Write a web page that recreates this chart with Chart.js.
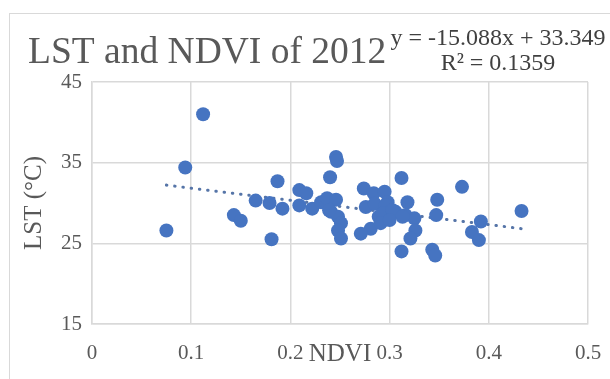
<!DOCTYPE html>
<html>
<head>
<meta charset="utf-8">
<script src="https://cdn.jsdelivr.net/npm/chart.js@4/dist/chart.umd.min.js"></script>
<style>
  html, body { margin: 0; padding: 0; background: #ffffff; }
  #wrap { width: 610px; height: 379px; }
</style>
</head>
<body>
<div id="wrap"><canvas id="c" width="610" height="379"></canvas></div>
<script>
// NDVI (x) and land surface temperature in °C (y), one entry per sample site
const ndvi = [0.075, 0.094, 0.112, 0.143, 0.150, 0.165, 0.179, 0.181, 0.187, 0.192,
              0.209, 0.216, 0.209, 0.222, 0.231, 0.237, 0.246, 0.246, 0.247, 0.240,
              0.241, 0.248, 0.251, 0.248, 0.251, 0.274, 0.284, 0.295, 0.276, 0.298,
              0.318, 0.289, 0.306, 0.316, 0.325, 0.326, 0.321, 0.281, 0.271, 0.312,
              0.373, 0.433, 0.348, 0.347, 0.312, 0.343, 0.346, 0.392, 0.383, 0.390,
              0.285, 0.296, 0.293, 0.303, 0.313, 0.291, 0.300, 0.239];
const lst  = [26.6, 34.4, 41.0, 28.5, 27.8, 30.3, 30.0, 25.5, 32.7, 29.3,
              31.6, 31.2, 29.7, 29.3, 30.1, 30.6, 30.4, 35.7, 35.2, 33.2,
              28.9, 28.3, 27.5, 26.6, 25.6, 31.8, 31.2, 31.4, 29.5, 30.1,
              30.1, 28.3, 28.9, 28.5, 28.1, 26.6, 25.6, 26.8, 26.2, 33.1,
              32.0, 29.0, 30.4, 28.5, 24.0, 24.2, 23.5, 27.7, 26.4, 25.4,
              29.9, 29.7, 28.7, 29.1, 28.3, 27.5, 27.9, 29.1];

// Axis ticks
const xTickValues = [0, 0.1, 0.2, 0.3, 0.4, 0.5];
const xTickLabels = ['0', '0.1', '0.2', '0.3', '0.4', '0.5'];
const yTickValues = [15, 25, 35, 45];
const yTickLabels = ['15', '25', '35', '45'];

// Linear trend fitted to the samples
const trendSlope = -15.088;
const trendIntercept = 33.349;
const rSquared = 0.1359;

const chartTitle = 'LST and NDVI of 2012';
const xAxisTitle = 'NDVI';
const yAxisTitle = 'LST (°C)';

const serif = '"Liberation Serif", "Times New Roman", serif';

const points = ndvi.map((x, i) => ({ x: x, y: lst[i] }));
const xMin = Math.min(...ndvi), xMax = Math.max(...ndvi);
const trend = [xMin, xMax].map(x => ({ x: x, y: trendSlope * x + trendIntercept }));

const equationText = 'y = ' + trendSlope.toFixed(3) + 'x + ' + trendIntercept.toFixed(3);
const rSquaredText = 'R² = ' + rSquared.toFixed(4);

// Frame, title and trend equation drawn onto the canvas
const decor = {
  id: 'decor',
  beforeDraw(chart) {
    const ctx = chart.ctx;
    ctx.save();
    ctx.fillStyle = '#ffffff';
    ctx.fillRect(0, 0, chart.width, chart.height);
    ctx.strokeStyle = '#d9d9d9';
    ctx.lineWidth = 1;
    ctx.strokeRect(9.5, 13.5, 700, 500);
    ctx.restore();
  },
  afterDraw(chart) {
    const ctx = chart.ctx;
    ctx.save();
    ctx.textBaseline = 'alphabetic';
    ctx.fillStyle = '#595959';
    ctx.font = '37.5px ' + serif;
    ctx.textAlign = 'left';
    ctx.fillText(chartTitle, 28, 63);

    ctx.fillStyle = '#404040';
    ctx.font = '24px ' + serif;
    ctx.textAlign = 'center';
    ctx.fillText(equationText, 498, 45);
    ctx.fillText(rSquaredText, 498, 70);
    ctx.restore();
  }
};

const gridColor = '#d9d9d9';

new Chart(document.getElementById('c'), {
  type: 'scatter',
  data: {
    datasets: [
      {
        label: 'LST',
        data: points,
        backgroundColor: '#4674c1',
        borderWidth: 0,
        pointRadius: 7,
        pointHoverRadius: 7,
        order: 1
      },
      {
        label: 'Linear (LST)',
        type: 'line',
        data: trend,
        borderColor: '#5675a8',
        borderWidth: 3,
        borderDash: [0.5, 7.8],
        borderCapStyle: 'round',
        pointRadius: 0,
        fill: false,
        order: 2
      }
    ]
  },
  options: {
    responsive: false,
    animation: false,
    events: [],
    layout: { padding: { top: 82, right: 22, bottom: 0, left: 0 } },
    plugins: {
      legend: { display: false },
      tooltip: { enabled: false },
      title: { display: false }
    },
    scales: {
      x: {
        type: 'linear',
        min: 0,
        max: 0.5,
        afterBuildTicks(scale) { scale.ticks = xTickValues.map(v => ({ value: v })); },
        afterFit(scale) {
          scale.height = 55;
          scale.paddingLeft = 0;
          scale.paddingRight = 0;
        },
        ticks: {
          padding: 17,
          color: '#595959',
          font: { family: serif, size: 21 },
          callback: (v, i) => xTickLabels[i]
        },
        grid: { color: gridColor, lineWidth: 1.5, drawTicks: false },
        border: { color: gridColor, width: 1.5 },
        title: {
          display: true,
          text: xAxisTitle,
          color: '#595959',
          font: { family: serif, size: 25 },
          padding: { top: 0, bottom: 10 }
        }
      },
      y: {
        type: 'linear',
        min: 15,
        max: 45,
        afterBuildTicks(scale) { scale.ticks = yTickValues.map(v => ({ value: v })); },
        afterFit(scale) { scale.width = 92; },
        ticks: {
          padding: 10,
          color: '#595959',
          font: { family: serif, size: 21 },
          callback: (v, i) => yTickLabels[i]
        },
        grid: { color: gridColor, lineWidth: 1.5, drawTicks: false },
        border: { color: gridColor, width: 1.5 },
        title: {
          display: true,
          text: yAxisTitle,
          color: '#595959',
          font: { family: serif, size: 25 },
          padding: { top: 19, bottom: 0 }
        }
      }
    }
  },
  plugins: [decor]
});
</script>
</body>
</html>
